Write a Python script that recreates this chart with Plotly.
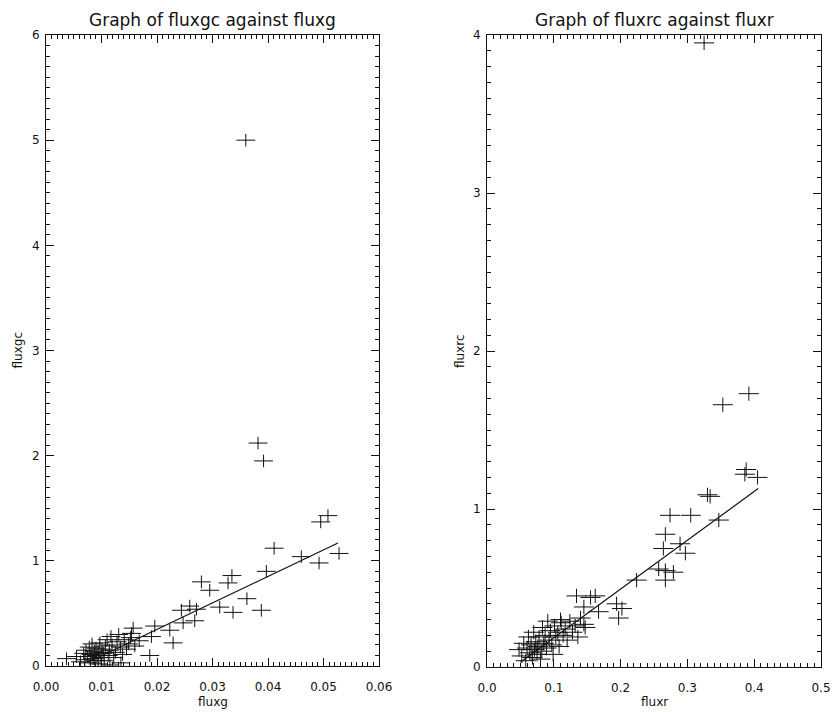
import plotly.graph_objects as go

# ---- data: left panel (fluxg vs fluxgc) ----
fluxg = [0.036, 0.0382, 0.0392, 0.0495, 0.0508, 0.0411, 0.0528, 0.0460, 0.0492, 0.0397,
         0.0335, 0.0280, 0.0328, 0.0295, 0.0362, 0.0313, 0.0388, 0.0337, 0.0259, 0.0244,
         0.0271, 0.0247, 0.0268, 0.0223, 0.0229, 0.0196, 0.0190, 0.0187, 0.0157, 0.0154,
         0.0037, 0.0055, 0.0062, 0.0068, 0.0070, 0.0072, 0.0075, 0.0078, 0.0080, 0.0081,
         0.0083, 0.0085, 0.0087, 0.0088, 0.0090, 0.0092, 0.0094, 0.0095, 0.0097, 0.0099,
         0.0101, 0.0103, 0.0105, 0.0107, 0.0110, 0.0112, 0.0114, 0.0117, 0.0119, 0.0122,
         0.0125, 0.0128, 0.0131, 0.0134, 0.0138, 0.0141, 0.0145, 0.0149, 0.0152, 0.0160,
         0.0168, 0.0135, 0.0115]
fluxgc = [5.00, 2.12, 1.95, 1.37, 1.43, 1.12, 1.07, 1.04, 0.98, 0.90,
          0.86, 0.80, 0.79, 0.72, 0.64, 0.56, 0.53, 0.51, 0.57, 0.53,
          0.54, 0.41, 0.43, 0.34, 0.22, 0.38, 0.28, 0.10, 0.36, 0.31,
          0.07, 0.09, 0.04, 0.12, 0.06, 0.15, 0.09, 0.18, 0.03, 0.11,
          0.21, 0.07, 0.14, 0.05, 0.17, 0.10, 0.02, 0.13, 0.22, 0.08,
          0.16, 0.12, 0.05, 0.19, 0.25, 0.10, 0.15, 0.28, 0.20, 0.08,
          0.13, 0.23, 0.30, 0.18, 0.11, 0.25, 0.16, 0.21, 0.27, 0.19,
          0.24, 0.03, 0.01]
fluxg_err = 0.0017
fluxgc_err = 0.06
fit_g_slope = 25.2
fit_g_icpt = -0.156
fit_g_xrange = [0.0075, 0.0526]

# ---- data: right panel (fluxr vs fluxrc) ----
fluxr = [0.325, 0.392, 0.353, 0.388, 0.386, 0.405, 0.330, 0.334, 0.347, 0.305,
         0.274, 0.267, 0.264, 0.289, 0.297, 0.267, 0.279, 0.267, 0.257, 0.224,
         0.134, 0.155, 0.162, 0.145, 0.167, 0.194, 0.202, 0.197, 0.147, 0.110,
         0.048, 0.052, 0.055, 0.058, 0.060, 0.062, 0.064, 0.066, 0.068, 0.070,
         0.071, 0.073, 0.075, 0.076, 0.078, 0.080, 0.082, 0.083, 0.085, 0.087,
         0.089, 0.091, 0.093, 0.095, 0.097, 0.099, 0.101, 0.103, 0.106, 0.108,
         0.111, 0.114, 0.117, 0.120, 0.124, 0.128, 0.132, 0.136, 0.140, 0.145]
fluxrc = [3.95, 1.73, 1.66, 1.25, 1.22, 1.20, 1.09, 1.08, 0.93, 0.96,
          0.96, 0.84, 0.75, 0.78, 0.72, 0.61, 0.60, 0.55, 0.62, 0.55,
          0.45, 0.44, 0.45, 0.38, 0.35, 0.40, 0.37, 0.31, 0.25, 0.30,
          0.11, 0.07, 0.15, 0.04, 0.12, 0.19, 0.09, 0.14, 0.06, 0.22,
          0.11, 0.16, 0.08, 0.13, 0.19, 0.05, 0.10, 0.25, 0.15, 0.20,
          0.12, 0.29, 0.17, 0.23, 0.14, 0.08, 0.26, 0.19, 0.22, 0.13,
          0.28, 0.20, 0.24, 0.17, 0.29, 0.22, 0.26, 0.19, 0.31, 0.27]
fluxr_err = 0.015
fluxrc_err = 0.045
fit_r_slope = 3.09
fit_r_icpt = -0.125
fit_r_xrange = [0.05, 0.406]

titles = ["Graph of fluxgc against fluxg", "Graph of fluxrc against fluxr"]
xtitles = ["fluxg", "fluxr"]
ytitles = ["fluxgc", "fluxrc"]

FONT = "DejaVu Sans"
INK = "#111"
W, H = 834, 712

fig = go.Figure()

def err_scatter(x, y, ex, ey, xa, ya):
    return go.Scatter(
        x=x, y=y, mode="markers", xaxis=xa, yaxis=ya,
        marker=dict(size=1, color=INK),
        error_x=dict(type="constant", value=ex, width=0, thickness=1, color=INK),
        error_y=dict(type="constant", value=ey, width=0, thickness=1, color=INK),
        showlegend=False, hoverinfo="x+y")

fig.add_trace(err_scatter(fluxg, fluxgc, fluxg_err, fluxgc_err, "x", "y"))
fig.add_trace(go.Scatter(x=fit_g_xrange, y=[fit_g_slope * v + fit_g_icpt for v in fit_g_xrange],
                         mode="lines", line=dict(color=INK, width=1.2), xaxis="x", yaxis="y",
                         showlegend=False))
fig.add_trace(err_scatter(fluxr, fluxrc, fluxr_err, fluxrc_err, "x2", "y2"))
fig.add_trace(go.Scatter(x=fit_r_xrange, y=[fit_r_slope * v + fit_r_icpt for v in fit_r_xrange],
                         mode="lines", line=dict(color=INK, width=1.2), xaxis="x2", yaxis="y2",
                         showlegend=False))

def px_dom(a, b, total, flip=False):
    if flip:
        return [1 - b / total, 1 - a / total]
    return [a / total, b / total]

common = dict(showline=True, linecolor=INK, linewidth=1, mirror="allticks",
              ticks="inside", tickcolor=INK, tickwidth=1, showgrid=False, zeroline=False,
              automargin=False, tickfont=dict(family=FONT, size=12, color=INK))

xd1 = px_dom(46, 379, W)
xd2 = px_dom(487, 821, W)
yd1 = px_dom(35, 666, H, flip=True)
yd2 = px_dom(35, 667, H, flip=True)

fig.update_layout(
    width=W, height=H, margin=dict(l=0, r=0, t=0, b=0),
    plot_bgcolor="white", paper_bgcolor="white",
    xaxis=dict(domain=xd1, range=[0, 0.06], dtick=0.01, tickformat=".2f", ticklen=8,
               ticklabelstandoff=10,
               minor=dict(dtick=0.001, ticklen=4, ticks="inside", tickcolor=INK), anchor="y", **common),
    yaxis=dict(domain=yd1, range=[0, 6], dtick=1, ticklen=8, ticklabelstandoff=3,
               minor=dict(dtick=0.1, ticklen=4, ticks="inside", tickcolor=INK), anchor="x", **common),
    xaxis2=dict(domain=xd2, range=[0, 0.5], dtick=0.1, tickformat=".1f", ticklen=8,
                ticklabelstandoff=10,
                minor=dict(dtick=0.01, ticklen=4, ticks="inside", tickcolor=INK), anchor="y2", **common),
    yaxis2=dict(domain=yd2, range=[0, 4], dtick=1, ticklen=8, ticklabelstandoff=3,
                minor=dict(dtick=0.1, ticklen=4, ticks="inside", tickcolor=INK), anchor="x2", **common),
)

annots = []
for i, (xd, yd) in enumerate([(xd1, yd1), (xd2, yd2)]):
    cx = (xd[0] + xd[1]) / 2
    annots.append(dict(text=titles[i], x=cx, y=1 - 20 / H, xref="paper", yref="paper",
                       showarrow=False, xanchor="center", yanchor="middle",
                       font=dict(family=FONT, size=17, color=INK)))
    annots.append(dict(text=xtitles[i], x=cx, y=1 - 702 / H, xref="paper", yref="paper",
                       showarrow=False, xanchor="center", yanchor="middle",
                       font=dict(family=FONT, size=12, color=INK)))
    ycx = [17, 460][i] / W
    annots.append(dict(text=ytitles[i], x=ycx, y=(yd[0] + yd[1]) / 2, xref="paper", yref="paper",
                       showarrow=False, textangle=-90, xanchor="center", yanchor="middle",
                       font=dict(family=FONT, size=12, color=INK)))
fig.update_layout(annotations=annots)

fig.write_html("out.html")
